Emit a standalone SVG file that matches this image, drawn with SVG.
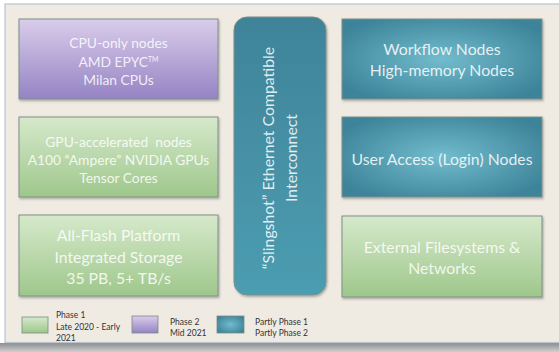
<svg xmlns="http://www.w3.org/2000/svg" width="559" height="352" viewBox="0 0 559 352">
<defs>
<linearGradient id="gPurple" x1="0" y1="0" x2="0" y2="1">
<stop offset="0" stop-color="#d9cdea"/>
<stop offset="1" stop-color="#9583c4"/>
</linearGradient>
<linearGradient id="gGreen" x1="0" y1="0" x2="0" y2="1">
<stop offset="0" stop-color="#d6e9cb"/>
<stop offset="1" stop-color="#9ec78b"/>
</linearGradient>
<radialGradient id="gTeal" cx="0.5" cy="0.5" r="0.6">
<stop offset="0" stop-color="#72bccd"/>
<stop offset="1" stop-color="#3d8399"/>
</radialGradient>
<linearGradient id="gInter" x1="0" y1="0" x2="0" y2="1">
<stop offset="0" stop-color="#3f8399"/>
<stop offset="1" stop-color="#4c9db1"/>
</linearGradient>
<linearGradient id="gShadow" x1="0" y1="0" x2="0" y2="1">
<stop offset="0" stop-color="#8d8d8d"/>
<stop offset="1" stop-color="#d0d0d0"/>
</linearGradient>
<filter id="sh" x="-5%" y="-5%" width="112%" height="115%">
<feDropShadow dx="1" dy="1.5" stdDeviation="1.2" flood-color="#000" flood-opacity="0.3"/>
</filter>
</defs>
<style>
.box{stroke:#7f8f88;stroke-width:1;filter:url(#sh)}
.t{font-family:Lato,"Open Sans","Liberation Sans",sans-serif;fill:#ffffff;fill-opacity:0.85;text-anchor:middle;white-space:pre}
.s{font-size:13.8px}
.m{font-size:15.8px}
.lg{font-family:Lato,"Open Sans","Liberation Sans",sans-serif;font-size:8.5px;fill:#333}
.sw{stroke:#7a8a84;stroke-width:0.8}
</style>
<rect x="0" y="0" width="559" height="352" fill="#ffffff"/>
<rect x="0" y="343" width="559" height="9" fill="url(#gShadow)"/>
<rect x="5" y="4" width="560" height="338.5" fill="#efebe3" stroke="#b8c4d4" stroke-width="1.2"/>

<g id="connectors"/>

<g id="cpu">
<rect class="box" x="19" y="19" width="199" height="80" fill="url(#gPurple)"/>
<text class="t s" x="118.5" y="48">CPU-only nodes</text>
<text class="t s" x="118.5" y="66.5">AMD EPYC<tspan font-size="7" dy="-5">TM</tspan></text>
<text class="t s" x="118.5" y="85">Milan CPUs</text>
</g>
<g id="gpu">
<rect class="box" x="19" y="117" width="199" height="80" fill="url(#gGreen)"/>
<text class="t s" x="118.5" y="147" xml:space="preserve">GPU-accelerated  nodes</text>
<text class="t s" x="118.5" y="165">A100 “Ampere” NVIDIA GPUs</text>
<text class="t s" x="118.5" y="183">Tensor Cores</text>
</g>
<g id="storage">
<rect class="box" x="19" y="215" width="199" height="81" fill="url(#gGreen)"/>
<text class="t m" x="118.5" y="241">All-Flash Platform</text>
<text class="t m" x="118.5" y="262.5">Integrated Storage</text>
<text class="t m" x="118.5" y="284">35 PB, 5+ TB/s</text>
</g>
<g id="interconnect">
<rect class="box" x="234" y="17" width="92" height="278" rx="13" ry="13" fill="url(#gInter)"/>
<text class="t m" transform="translate(274,158) rotate(-90)">“Slingshot” Ethernet Compatible</text>
<text class="t m" transform="translate(297,158) rotate(-90)">Interconnect</text>
</g>
<g id="workflow">
<rect class="box" x="342" y="19" width="200" height="80" fill="url(#gTeal)"/>
<text class="t m" x="442" y="55">Workflow Nodes</text>
<text class="t m" x="442" y="76">High-memory Nodes</text>
</g>
<g id="login">
<rect class="box" x="342" y="117" width="200" height="80" fill="url(#gTeal)"/>
<text class="t m" x="442" y="165">User Access (Login) Nodes</text>
</g>
<g id="external">
<rect class="box" x="342" y="216" width="200" height="81" fill="url(#gGreen)"/>
<text class="t m" x="442" y="253">External Filesystems &amp;</text>
<text class="t m" x="442" y="274">Networks</text>
</g>

<g id="legend">
<rect class="sw" x="22" y="317" width="26" height="16" fill="url(#gGreen)"/>
<text class="lg" x="56" y="318">Phase 1</text>
<text class="lg" x="56" y="330">Late 2020 - Early</text>
<text class="lg" x="56" y="341">2021</text>
<rect class="sw" x="132" y="316" width="26" height="17" fill="url(#gPurple)"/>
<text class="lg" x="170" y="325">Phase 2</text>
<text class="lg" x="170" y="336">Mid 2021</text>
<rect class="sw" x="217" y="316" width="27" height="17" fill="url(#gTeal)"/>
<text class="lg" x="255" y="325">Partly Phase 1</text>
<text class="lg" x="255" y="336">Partly Phase 2</text>
</g>
</svg>
